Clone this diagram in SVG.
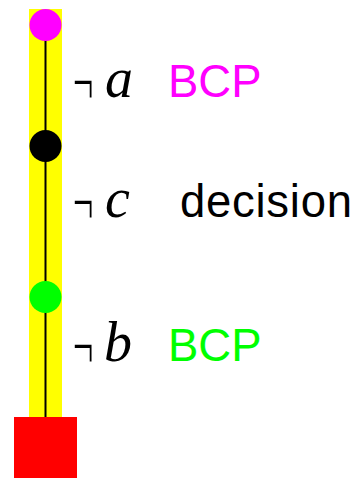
<svg xmlns="http://www.w3.org/2000/svg" width="356" height="478" viewBox="0 0 356 478">
<style>
.neg{font-family:"Liberation Serif",serif;font-size:36px;fill:#000}
.var{font-family:"Liberation Serif",serif;font-style:italic;font-size:56px;fill:#000}
.lbl{font-family:"Liberation Sans",Arial,sans-serif;font-size:45.5px}
</style>
<rect width="356" height="478" fill="#fff"/>
<g id="track">
<rect x="29" y="9" width="33" height="408" fill="#ffff00"/>
</g>
<g id="connectors">
<line x1="45.5" y1="25" x2="45.5" y2="417" stroke="#000" stroke-width="2"/>
</g>
<g id="node-a"><circle cx="45.5" cy="25" r="16" fill="#ff00ff"/></g>
<g id="node-c"><circle cx="45.5" cy="146" r="16" fill="#000"/></g>
<g id="node-b"><circle cx="45.5" cy="297" r="16" fill="#00ff00"/></g>
<g id="node-end"><rect x="14" y="417" width="63" height="61" fill="#ff0000"/></g>
<g id="label-a">
<text class="neg" transform="translate(73,104) scale(1,1.8)">¬</text>
<text class="var" x="105" y="97">a</text>
<text class="lbl" x="168" y="97" fill="#ff00ff">BCP</text>
</g>
<g id="label-c">
<text class="neg" transform="translate(73,224) scale(1,1.8)">¬</text>
<text class="var" x="105" y="217">c</text>
<text class="lbl" x="180" y="217" fill="#000" textLength="172">decision</text>
</g>
<g id="label-b">
<text class="neg" transform="translate(73,368) scale(1,1.8)">¬</text>
<text class="var" x="104" y="361">b</text>
<text class="lbl" x="168" y="361" fill="#00ff00">BCP</text>
</g>
</svg>
